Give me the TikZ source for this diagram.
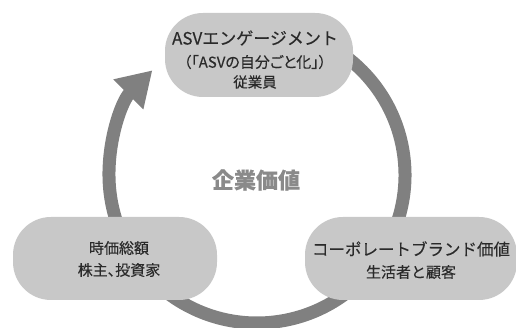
\documentclass[tikz,border=0pt]{standalone}
\usepackage{fontspec}
\setmainfont{Noto Sans CJK JP}[FakeBold=0.25]
\newfontfamily\jpp{Noto Sans CJK JP}[RawFeature=+palt, FakeBold=0.25]
\usetikzlibrary{arrows.meta}
\definecolor{ringgray}{HTML}{808080}
\definecolor{boxgray}{HTML}{C8C8C8}
\definecolor{txtdark}{HTML}{2A2A2A}
\definecolor{centergray}{HTML}{8A8A8A}
\begin{document}
\begin{tikzpicture}[x=1pt,y=1pt,
  pill/.style={fill=boxgray, draw=none, rounded corners=38pt, inner sep=0pt},
  lbl/.style={text=txtdark, inner sep=0pt, anchor=center},
  ring/.style={draw=ringgray, line width=13pt}]
\useasboundingbox (0,0) rectangle (516,328);
\fill[white] (0,0) rectangle (516,328);
% ring
\coordinate (c) at (257,153);
\draw[ring, -{Triangle[length=34pt,width=40pt]}] ([shift={(95:148)}]c) arc[start angle=95, end angle=-225, radius=148];
% boxes
\node[pill, minimum width=188pt, minimum height=84pt] (top) at (259,273) {};
\node[pill, minimum width=204pt, minimum height=83pt] (left) at (115,69.5) {};
\node[pill, minimum width=212pt, minimum height=83pt] (right) at (411,69.5) {};
% texts
\node[lbl, font=\fontsize{17}{17}\selectfont] (t1) at (255,290) {ASVエンゲージメント};
\node[lbl, font=\jpp\fontsize{15}{15}\selectfont] (t2) at (255,266) {（「ASVの自分ごと化」）};
\node[lbl, font=\fontsize{14.5}{14.5}\selectfont] (t3) at (255,246) {従業員};
\node[lbl, font=\fontsize{15}{15}\selectfont] (l1) at (119,80) {時価総額};
\node[lbl, font=\jpp\fontsize{15}{15}\selectfont] (l2) at (119,58) {株主、投資家};
\node[lbl, font=\fontsize{16.5}{16.5}\selectfont] (r1) at (411,79) {コーポレートブランド価値};
\node[lbl, font=\fontsize{15}{15}\selectfont] (r2) at (411,56) {生活者と顧客};
\node[lbl, text=centergray, font=\fontsize{22}{22}\selectfont\bfseries] (ctr) at (256,148) {企業価値};
\end{tikzpicture}
\end{document}
